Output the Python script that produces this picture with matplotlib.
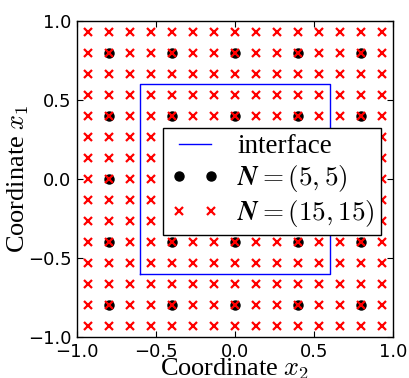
import numpy as np
import matplotlib
matplotlib.use("Agg")
import matplotlib.pyplot as plt
from matplotlib.legend_handler import HandlerLine2D

# Data
fine_coords = [-14/15, -12/15, -10/15, -8/15, -6/15, -4/15, -2/15, 0.0,
               2/15, 4/15, 6/15, 8/15, 10/15, 12/15, 14/15]
coarse_coords = [-0.8, -0.4, 0.0, 0.4, 0.8]
interface_x = [-0.6, 0.6, 0.6, -0.6, -0.6]
interface_y = [-0.6, -0.6, 0.6, 0.6, -0.6]
ticks = [-1.0, -0.5, 0.0, 0.5, 1.0]

plt.rcParams['mathtext.fontset'] = 'cm'

fig = plt.figure(figsize=(4.10, 3.78), dpi=100)
ax = fig.add_axes([77/410, 41/378, 316/410, 316/378])

fx, fy = np.meshgrid(fine_coords, fine_coords)
cx, cy = np.meshgrid(coarse_coords, coarse_coords)

l1, = ax.plot(interface_x, interface_y, color='blue', lw=1.0, label='interface', zorder=2)
l2, = ax.plot(cx.ravel(), cy.ravel(), 'o', color='black', ms=6.5, ls='none',
              label=r'$\mathbfit{N}=(5,5)$', zorder=3)
l3, = ax.plot(fx.ravel(), fy.ravel(), 'x', color='red', ms=5.5, mew=1.6, ls='none',
              label=r'$\mathbfit{N}=(15,15)$', zorder=4)

ax.set_xlim(-1, 1)
ax.set_ylim(-1, 1)
ax.set_xticks(ticks)
ax.set_yticks(ticks)
ax.tick_params(direction='in', top=True, right=True, length=4, labelsize=13, pad=4)
for s in ax.spines.values():
    s.set_color('black')
    s.set_linewidth(1.0)

ax.set_xlabel(r'Coordinate $x_2$', family='Liberation Serif', fontsize=19, labelpad=-3)
ax.set_ylabel(r'Coordinate $x_1$', family='Liberation Serif', fontsize=19)
ax.yaxis.set_label_coords(-0.145, 0.5)

pad = 0.37
hm = {l: HandlerLine2D(marker_pad=0, numpoints=2, xpad=pad) for l in (l1, l2, l3)}
leg = ax.legend(handles=[l1, l2, l3], handler_map=hm,
                loc='upper left', bbox_to_anchor=(0.272, 0.661), borderaxespad=0,
                numpoints=2, fancybox=False, framealpha=1, edgecolor='black',
                prop={'family': 'Liberation Serif', 'size': 19.5},
                handlelength=1.2 + pad, handletextpad=0.95, labelspacing=0.15,
                borderpad=0.22)
leg.get_frame().set_linewidth(1.0)
leg.set_zorder(10)

fig.savefig('out.png', dpi=100)
